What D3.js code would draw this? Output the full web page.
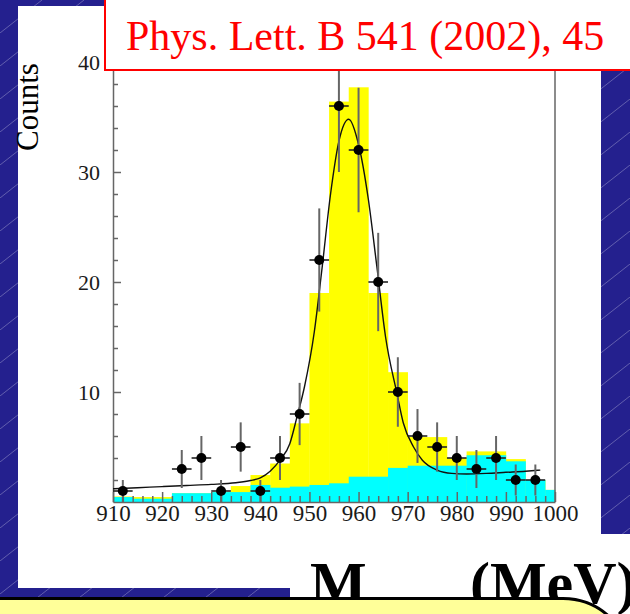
<!DOCTYPE html>
<html>
<head>
<meta charset="utf-8">
<script src="https://cdn.jsdelivr.net/npm/d3@7/dist/d3.min.js"></script>
<style>
  html, body { margin: 0; padding: 0; background: #24208e; }
  svg { display: block; }
  text { font-family: "Liberation Serif", "Times New Roman", Times, serif; }
</style>
</head>
<body>
<svg id="chart" width="630" height="614"></svg>
<script>
// Invariant-mass spectrum: data points, MC histograms (total and background) and fit curve

// Measured counts per 4 MeV bin (bin centres in MeV)
const dataMass   = [912, 924, 928, 932, 936, 940, 944, 948, 952, 956, 960, 964, 968, 972, 976, 980, 984, 988, 992, 996];
const dataCounts = [1, 3, 4, 1, 5, 1, 4, 8, 22, 36, 32, 20, 10, 6, 5, 4, 3, 4, 2, 2];
const dataErrors = [1, 1.73, 2, 1, 2.24, 1, 2, 2.83, 4.69, 6, 5.66, 4.47, 3.16, 2.45, 2.24, 2, 1.73, 2, 1.41, 1.41];
const dataHalfWidth = 2;

// Total Monte Carlo expectation (yellow), as step edges and bin contents
const totalEdges  = [910, 914, 922, 930, 934, 938, 942, 946, 950, 954, 958, 962, 966, 970, 978, 982, 990, 994, 998, 1000];
const totalCounts = [0.5, 0.45, 0.8, 0.9, 1.45, 2.45, 3.5, 7.15, 19, 36.4, 37.7, 19, 11.8, 5.9, 4.0, 4.6, 3.9, 2.0, 1.1];

// Background Monte Carlo (cyan)
const bkgEdges  = [910, 914, 922, 930, 938, 942, 946, 950, 954, 958, 966, 970, 982, 990, 994, 998, 1000];
const bkgCounts = [0.45, 0.3, 0.8, 0.9, 1.55, 1.3, 1.4, 1.55, 1.7, 2.3, 3.1, 3.3, 4.25, 3.7, 2.0, 1.1];

// Fit curve sampled along the mass axis
const fitMass   = [910, 915, 920, 925, 930, 935, 938, 940, 942, 944, 946, 947.5, 949, 951, 952.5, 954.3, 956, 958, 960, 962, 963.7, 965.5, 967.8, 969.1, 971.2, 973, 976, 979, 982, 986, 990, 994, 997];
const fitCounts = [1.2, 1.3, 1.4, 1.5, 1.6, 1.75, 1.95, 2.2, 2.8, 3.8, 5.3, 7.8, 10.5, 15.5, 21, 28, 32.8, 34.8, 32.5, 27.5, 21.5, 15, 9.9, 7.2, 5.0, 3.8, 2.9, 2.6, 2.55, 2.6, 2.7, 2.8, 2.9];

// Axis ticks
const xMajorTicks = [910, 920, 930, 940, 950, 960, 970, 980, 990, 1000];
const xMinorTicks = [912, 914, 916, 918, 922, 924, 926, 928, 932, 934, 936, 938, 942, 944, 946, 948, 952, 954, 956, 958,
                     962, 964, 966, 968, 972, 974, 976, 978, 982, 984, 986, 988, 992, 994, 996, 998];
const yMajorTicks = [10, 20, 30, 40];
const yMinorTicks = [2, 4, 6, 8, 12, 14, 16, 18, 22, 24, 26, 28, 32, 34, 36, 38, 42];

const svg = d3.select("#chart");
const W = 630, H = 614;

// Slide background: blue with faint diagonal hatching
const defs = svg.append("defs");
const pat = defs.append("pattern")
  .attr("id", "hatch").attr("patternUnits", "userSpaceOnUse")
  .attr("width", 42).attr("height", 33);
pat.append("rect").attr("width", 42).attr("height", 33).attr("fill", "#24208e");
pat.append("line").attr("x1", 0).attr("y1", 33).attr("x2", 42).attr("y2", 0)
  .attr("stroke", "rgba(255,255,255,0.35)").attr("stroke-width", 0.8);
svg.append("rect").attr("width", W).attr("height", H).attr("fill", "url(#hatch)");

// White panel holding the plot
svg.append("rect").attr("x", 18).attr("y", 6).attr("width", 583).attr("height", 582).attr("fill", "#fff");

const x = d3.scaleLinear().domain([910, 1000]).range([113, 555]);
const y = d3.scaleLinear().domain([0, 40]).range([502, 62]);
const yTop = 44;

const plot = svg.append("g");

function drawSteps(edges, counts, color) {
  plot.append("g").selectAll("rect")
    .data(counts)
    .join("rect")
    .attr("x", (d, i) => x(edges[i]))
    .attr("width", (d, i) => x(edges[i + 1]) - x(edges[i]) + 0.3)
    .attr("y", d => y(d))
    .attr("height", d => y(0) - y(d))
    .attr("fill", color);
}
drawSteps(totalEdges, totalCounts, "#ffff00");
drawSteps(bkgEdges, bkgCounts, "#00ffff");

// Axes with ticks pointing into the frame
const axisColor = "#666";
function styleAxis(g, size) {
  g.select(".domain").attr("stroke", axisColor).attr("stroke-width", 1.5);
  g.selectAll(".tick line").attr("stroke", axisColor).attr("stroke-width", 1.5);
  g.selectAll(".tick text")
    .attr("fill", "#1a1a1a")
    .style("font-family", '"Liberation Serif", "Times New Roman", serif')
    .style("font-size", size + "px");
}

plot.append("g").attr("transform", `translate(0,${y(0)})`)
  .call(d3.axisBottom(x).tickValues(xMinorTicks).tickSizeInner(-6).tickSizeOuter(0).tickFormat(""))
  .call(styleAxis, 23);
plot.append("g").attr("transform", `translate(0,${y(0)})`)
  .call(d3.axisBottom(x).tickValues(xMajorTicks).tickSizeInner(-10).tickSizeOuter(0).tickPadding(3).tickFormat(d3.format("d")))
  .call(styleAxis, 23)
  .call(g => g.select(".domain").remove());

const yAxisScale = y.copy().domain([0, yTop]).range([y(0), y(yTop)]);
plot.append("g").attr("transform", `translate(${x(910)},0)`)
  .call(d3.axisLeft(yAxisScale).tickValues(yMinorTicks).tickSizeInner(-5).tickSizeOuter(0).tickFormat(""))
  .call(styleAxis, 22);
plot.append("g").attr("transform", `translate(${x(910)},0)`)
  .call(d3.axisLeft(yAxisScale).tickValues(yMajorTicks).tickSizeInner(-8).tickSizeOuter(0).tickPadding(13).tickFormat(d3.format("d")))
  .call(styleAxis, 22)
  .call(g => g.select(".domain").remove());

// Right edge of the frame
plot.append("line")
  .attr("x1", x(1000)).attr("x2", x(1000))
  .attr("y1", y(0)).attr("y2", y(yTop))
  .attr("stroke", axisColor).attr("stroke-width", 1.5);

// Fit curve
plot.append("path")
  .datum(fitMass.map((m, i) => [m, fitCounts[i]]))
  .attr("fill", "none")
  .attr("stroke", "#111")
  .attr("stroke-width", 1.4)
  .attr("d", d3.line().x(d => x(d[0])).y(d => y(d[1])).curve(d3.curveMonotoneX));

// Data points with error bars
const pts = plot.append("g").selectAll("g")
  .data(dataMass.map((m, i) => ({ m, c: dataCounts[i], e: dataErrors[i] })))
  .join("g");
pts.append("line")
  .attr("x1", d => x(d.m)).attr("x2", d => x(d.m))
  .attr("y1", d => y(d.c + d.e)).attr("y2", d => y(Math.max(0, d.c - d.e)))
  .attr("stroke", "#666").attr("stroke-width", 2);
pts.append("line")
  .attr("x1", d => x(d.m - dataHalfWidth)).attr("x2", d => x(d.m + dataHalfWidth))
  .attr("y1", d => y(d.c)).attr("y2", d => y(d.c))
  .attr("stroke", "#222").attr("stroke-width", 1.6);
pts.append("circle")
  .attr("cx", d => x(d.m)).attr("cy", d => y(d.c))
  .attr("r", 5).attr("fill", "#000");

// Y-axis title
svg.append("text")
  .attr("transform", "translate(38,107) rotate(-90)")
  .attr("text-anchor", "middle")
  .attr("fill", "#000")
  .style("font-size", "31px")
  .text("Counts");

// Reference box
svg.append("rect")
  .attr("x", 105).attr("y", -5).attr("width", 540).attr("height", 75)
  .attr("fill", "#fff").attr("stroke", "#ff0000").attr("stroke-width", 2);
svg.append("text")
  .attr("x", 126).attr("y", 50)
  .attr("fill", "#ff0000")
  .style("font-size", "42px")
  .text("Phys. Lett. B 541 (2002), 45");

// Mass-axis title box
svg.append("rect").attr("x", 290).attr("y", 534).attr("width", 340).attr("height", 80).attr("fill", "#fff");
svg.append("text").attr("x", 310).attr("y", 603)
  .attr("fill", "#000").style("font-size", "60px").style("font-weight", "bold")
  .text("M");
svg.append("text").attr("x", 470).attr("y", 603)
  .attr("fill", "#000").style("font-size", "60px").style("font-weight", "bold")
  .text("(MeV)");

// Yellow note box along the bottom edge
svg.append("path")
  .attr("d", "M -5 598.5 H 563 A 68 68 0 0 1 631 666.5 V 720 H -5 Z")
  .attr("fill", "#ffff99")
  .attr("stroke", "#000")
  .attr("stroke-width", 3);
</script>
</body>
</html>
